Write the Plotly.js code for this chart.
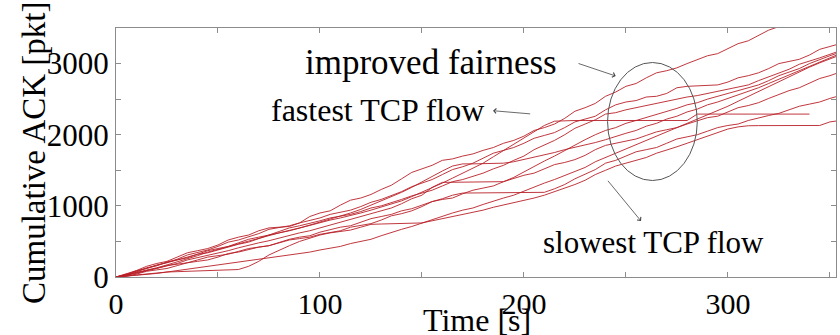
<!DOCTYPE html>
<html>
<head>
<meta charset="utf-8">
<script src="https://cdn.plot.ly/plotly-3.0.1.min.js"></script>
<style>
  html, body { margin: 0; padding: 0; background: #fff; }
  #chart { width: 840px; height: 335px; }
</style>
</head>
<body>
<div id="chart"></div>
<script>
// Sample times [s]
const timeS = [0,5,10,15,20,25,30,35,40,45,50,55,60,65,70,75,80,85,90,95,
               100,105,110,115,120,125,130,135,140,145,150,155,160,165,170,175,180,185,190,195,
               200,205,210,215,220,225,230,235,240,245,250,255,260,265,270,275,280,285,290,295,
               300,305,310,315,320,325,330,335,340,345,350,355];

// Cumulative ACK count [pkt] of each TCP flow
const flowA = [0,30,90,150,190,220,280,340,370,400,450,520,560,590,650,690,700,710,760,850,
               900,930,1010,1080,1110,1160,1230,1290,1380,1470,1520,1570,1640,1660,1700,1730,1780,1820,1880,1920,
               1980,2060,2100,2150,2230,2330,2380,2440,2540,2600,2680,2720,2800,2870,2900,2940,3000,3050,3110,3140,
               3210,3280,3320,3400,3470,3520,3600,3640,3720,3790,3830,3890];
const flowB = [0,20,70,130,160,200,250,310,340,380,430,490,520,560,610,670,690,720,760,790,
               830,880,910,940,990,1050,1090,1140,1200,1270,1320,1370,1440,1510,1550,1600,1670,1740,1780,1820,
               1880,1950,1990,2030,2100,2180,2220,2260,2350,2420,2460,2480,2530,2540,2580,2660,2680,2690,2690,2700,
               2740,2800,2830,2870,2930,3000,3030,3060,3120,3200,3240,3280];
const flowC = [0,40,80,110,160,210,240,270,320,370,400,430,480,530,560,590,640,690,720,750,
               790,830,850,880,920,970,1000,1040,1090,1140,1180,1220,1280,1340,1370,1410,1460,1520,1570,1640,
               1700,1790,1850,1920,2000,2090,2150,2210,2290,2310,2350,2380,2410,2450,2470,2500,2530,2550,2580,2620,
               2640,2680,2700,2760,2810,2860,2920,2990,3030,3080,3130,3180];
const flowD = [0,20,50,90,120,150,190,240,270,300,340,370,410,450,480,510,550,590,620,650,
               690,730,760,800,840,890,930,970,1030,1100,1150,1260,1330,1330,1330,1330,1330,1330,1340,1400,
               1480,1560,1630,1700,1780,1850,1930,2000,2060,2100,2160,2200,2240,2290,2330,2370,2420,2450,2500,2540,
               2570,2620,2650,2700,2760,2830,2880,2930,3000,3060,3110,3160];
const flowE = [0,10,40,80,100,120,160,200,220,240,280,330,350,390,420,440,490,530,560,580,
               630,670,700,720,770,820,850,880,930,960,1010,1060,1090,1110,1170,1220,1250,1280,1340,1390,
               1430,1460,1520,1580,1610,1650,1710,1790,1850,1880,1920,1940,1990,2040,2070,2100,2150,2200,2240,2260,
               2320,2380,2410,2450,2510,2570,2620,2660,2720,2790,2830,2880];
const flowF = [0,30,60,80,120,160,180,200,240,280,300,320,360,400,420,440,480,520,540,560,
               600,620,650,700,720,750,800,860,890,930,990,1060,1100,1150,1180,1180,1180,1180,1180,1180,
               1185,1185,1190,1240,1300,1380,1450,1510,1600,1640,1700,1760,1790,1820,1880,1940,1970,2000,2050,2100,
               2130,2150,2200,2240,2270,2300,2350,2400,2430,2460,2510,2550];
const flowG = [0,15,30,50,60,70,75,80,85,90,95,100,105,150,220,310,380,440,500,550,
               590,620,640,660,700,740,745,748,750,752,760,790,820,850,880,900,940,980,1010,1040,
               1080,1110,1150,1200,1240,1300,1360,1440,1500,1560,1600,1640,1680,1740,1780,1830,1880,1930,1980,2030,
               2080,2110,2126,2128,2130,2130,2130,2130,2130,2130,2180,2200];
const flowH = [0,30,60,100,130,170,210,260,300,350,390,420,470,510,550,580,620,650,690,720,
               760,800,830,860,900,940,980,1020,1070,1130,1190,1250,1320,1390,1460,1530,1600,1690,1780,1870,
               1960,2050,2130,2190,2200,2200,2200,2200,2200,2200,2200,2200,2200,2200,2200,2200,2200,2290,2290,2290,
               2290,2290,2290,2290,2290,2290,2290,2290,2290,null,null,null];
const flowI = [0,50,90,120,170,200,240,290,320,340,380,430,460,490,540,590,620,650,690,730,
               770,810,860,900,950,1010,1060,1120,1190,1260,1340,1420,1490,1560,1590,1590,1590,1590,1600,1620,
               1650,1680,1720,1750,1790,1820,1860,1890,1930,1980,2020,2060,2120,2160,2220,2260,2320,2360,2420,2460,
               2510,2560,2600,2660,2720,2780,2850,2900,2970,3030,3090,3140];
const flowJ = [0,10,20,30,50,70,90,100,130,150,170,180,210,230,250,260,290,310,330,350,
               380,400,430,470,500,530,580,630,670,710,760,800,850,900,940,970,1020,1070,1110,1150,
               1210,1270,1320,1370,1430,1480,1540,1620,1680,1740,1800,1850,1920,1980,2040,2090,2160,2210,2280,2330,
               2400,2470,2540,2610,2680,2750,2820,2880,2950,3010,3070,3120];

const flows = [flowA, flowB, flowC, flowD, flowE, flowF, flowG, flowH, flowI, flowJ];

// Axis tick labels
const xTickVals = [0, 100, 200, 300];
const yTickVals = [0, 1000, 2000, 3000];

const serif = "'Liberation Serif', 'Times New Roman', serif";
const frame = '#8c8c8c';

const traces = flows.map(v => ({
  x: timeS,
  y: v,
  type: 'scatter',
  mode: 'lines',
  connectgaps: false,
  line: { color: 'rgb(185,32,40)', width: 0.9 },
  hoverinfo: 'skip'
}));

// pixel helpers for placing labels around the plot area
const L = 116, T = 28, W = 720, H = 249;
const px = X => (X - L) / W;
const py = Y => (T + H - Y) / H;

function label(text, X, Y, size, extra) {
  return Object.assign({
    xref: 'paper', yref: 'paper', x: px(X), y: py(Y),
    xanchor: 'center', yanchor: 'middle',
    text: text, showarrow: false,
    font: { family: serif, size: size, color: '#000' }
  }, extra || {});
}

function arrow(headX, headY, tailX, tailY) {
  return {
    xref: 'paper', yref: 'paper', x: px(headX), y: py(headY),
    ax: tailX - headX, ay: tailY - headY,
    text: '', showarrow: true,
    arrowhead: 4, arrowsize: 1.2, arrowwidth: 0.8, arrowcolor: '#444'
  };
}

const axisCommon = {
  ticks: 'inside',
  ticklen: 5,
  tickcolor: frame,
  showline: true,
  linecolor: frame,
  linewidth: 1,
  mirror: 'ticks',
  showgrid: false,
  zeroline: false,
  tickfont: { family: serif, size: 31, color: '#000' }
};

const layout = {
  width: 840,
  height: 335,
  margin: { l: L, r: 840 - L - W, t: T, b: 335 - T - H },
  paper_bgcolor: '#fff',
  plot_bgcolor: '#fff',
  showlegend: false,
  font: { family: serif, color: '#000', size: 31 },
  xaxis: Object.assign({}, axisCommon, {
    range: [0, 353],
    tickvals: xTickVals,
    ticktext: xTickVals.map(String),
    tickfont: { family: serif, size: 30, color: '#000' },
    minor: { dtick: 50, tick0: 0, ticks: 'inside', ticklen: 5, tickcolor: frame }
  }),
  yaxis: Object.assign({}, axisCommon, {
    range: [0, 3500],
    tickvals: yTickVals,
    ticktext: yTickVals.map(String),
    minor: { dtick: 500, tick0: 0, ticks: 'inside', ticklen: 5, tickcolor: frame }
  }),
  shapes: [
    {
      type: 'circle', xref: 'x', yref: 'y',
      x0: 241, x1: 285, y0: 1356, y1: 3015,
      line: { color: '#555', width: 1 }
    }
  ],
  annotations: [
    label('Time [s]', 477, 320, 32),
    label('Cumulative ACK [pkt]', 34, 153, 33, { textangle: -90 }),
    label('improved fairness', 431, 62, 35),
    label('fastest TCP flow', 377, 110, 32),
    label('slowest TCP flow', 653, 242, 31),
    arrow(615.7, 76, 577, 63),
    arrow(493, 110.7, 531.7, 114),
    arrow(641, 221, 606.7, 179.3)
  ]
};

Plotly.newPlot('chart', traces, layout, { staticPlot: true, displayModeBar: false });
</script>
</body>
</html>
